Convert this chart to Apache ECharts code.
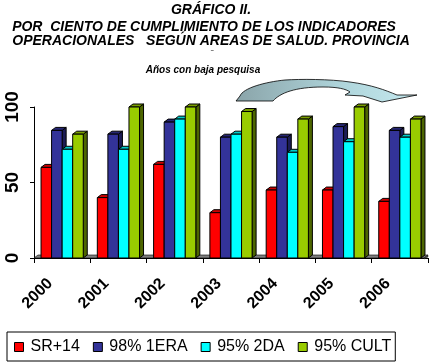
<!DOCTYPE html>
<html><head><meta charset="utf-8">
<script src="https://cdn.jsdelivr.net/npm/echarts@6/dist/echarts.min.js"></script>
<style>html,body{margin:0;padding:0;background:#fff}#c{width:432px;height:362px}</style>
</head><body><div id="c"></div>
<script>
var years = ['2000','2001','2002','2003','2004','2005','2006'];
var seriesNames = ['SR+14','98% 1ERA','95% 2DA','95% CULT'];
var sr14   = [60, 40, 62, 30, 45, 45, 37.5];
var era1   = [84.5, 82, 90, 80, 80, 87, 84.5];
var da2    = [72, 72, 92, 82, 70, 77, 80];
var cult   = [82, 100, 100, 97, 92, 100, 92];
var yTicks = [0, 50, 100];

var values = [sr14, era1, da2, cult];
var fronts = ['#FF0000','#333399','#00FFFF','#99CC00'];
var sides  = ['#990000','#1c1c55','#009999','#4d6600'];
var tops   = ['#cc0000','#262673','#00cccc','#7a9e00'];
var DX = 4, DY = 3;

function barRenderer(si){
  return function(params, api){
    var idx = api.value(0), v = api.value(1);
    var base = api.coord([idx, 0]);
    var top = api.coord([idx, v]);
    var cw = api.size([1, 0])[0];
    var bw = cw * 0.1875;
    var x = base[0] + (si - 2) * bw;
    var yb = base[1], yt = top[1];
    return {type:'group', children:[
      {type:'polygon', shape:{points:[[x+bw,yt],[x+bw+DX,yt-DY],[x+bw+DX,yb-DY],[x+bw,yb]]},
        style:{fill:sides[si], stroke:'#000', lineWidth:1}},
      {type:'polygon', shape:{points:[[x,yt],[x+DX,yt-DY],[x+bw+DX,yt-DY],[x+bw,yt]]},
        style:{fill:tops[si], stroke:'#000', lineWidth:1}},
      {type:'rect', shape:{x:x, y:yt, width:bw, height:yb-yt},
        style:{fill:fronts[si], stroke:'#000', lineWidth:1}}
    ]};
  };
}

var ARROW = 'M236,101 L273,101 C280,93 295,87 323,87 C338,87 346,89 350,92 L345,95 L363,96 L382,102 L417,95 L397,95 C385,90 372,85 350,82 C330,79 300,79 285,80 C265,82 243,88 240,96 Z';

function floorRenderer(params, api){
  var cs = params.coordSys;
  var x0 = cs.x, x1 = cs.x + cs.width, y0 = cs.y + cs.height;
  return {type:'group', children:[
    {type:'polygon', shape:{points:[[x0,y0],[x0+DX,y0-DY],[x1,y0-DY],[x1-DX,y0]]},
      style:{fill:'#808080', stroke:'#000', lineWidth:0.6}},
    {type:'polygon', shape:{points:[[x1-DX,y0],[x1,y0-DY],[x1,y0-DY+2],[x1-DX,y0+1]]},
      style:{fill:'#4d4d4d', stroke:'#000', lineWidth:0.4}},
    {type:'path', shape:{pathData:ARROW},
      style:{fill:{type:'linear', x:0, y:0, x2:1, y2:0, colorStops:[{offset:0,color:'#8aa4a9'},{offset:0.6,color:'#b0d6dc'},{offset:1,color:'#c4e8ee'}]},
        stroke:'#000', lineWidth:0.8}}
  ]};
}

var series = [{
  type:'custom', name:'floor', renderItem: floorRenderer, data:[[0,0]],
  clip:false, silent:true, z:1
}];
for (var s = 0; s < 4; s++) {
  series.push({
    type:'custom', name: seriesNames[s], renderItem: barRenderer(s),
    itemStyle:{color: fronts[s]},
    data: values[s].map(function(v, i){ return [i, v]; }),
    clip:false, z:2+s
  });
}

var FF = '"Liberation Sans", Arial, sans-serif';
var TS = {fontFamily:FF, fontSize:14, fontWeight:'bold', fontStyle:'italic', color:'#000'};
var chart = echarts.init(document.getElementById('c'), null, {renderer:'canvas'});
chart.setOption({
  animation:false,
  backgroundColor:'#fff',
  title:[
    {text:'GRÁFICO II.', left:211, textAlign:'center', top:3, padding:0, textStyle:TS},
    {text:'POR  CIENTO DE CUMPLIMIENTO DE LOS INDICADORES', left:204, textAlign:'center', top:20, padding:0, textStyle:TS},
    {text:'OPERACIONALES   SEGÚN AREAS DE SALUD. PROVINCIA', left:211, textAlign:'center', top:34, padding:0, textStyle:TS},
    {text:'˜', left:212, textAlign:'center', top:49, padding:0,
      textStyle:{fontFamily:FF, fontSize:8, fontWeight:'bold', color:'#000'}},
    {text:'Años con baja pesquisa', left:203, textAlign:'center', top:65, padding:0,
      textStyle:{fontFamily:FF, fontSize:10, fontWeight:'bold', fontStyle:'italic', color:'#000'}}
  ],
  legend:{
    data: seriesNames, left:7, top:332, orient:'horizontal',
    icon:'rect', itemWidth:9, itemHeight:9, itemGap:13,
    padding:[7,4,6,7],
    borderColor:'#000', borderWidth:1,
    itemStyle:{borderColor:'#000', borderWidth:1},
    textStyle:{fontFamily:FF, fontSize:16, color:'#000', padding:[0,0,0,2]}
  },
  grid:{left:34, right:4, top:107, bottom:104, containLabel:false},
  xAxis:{
    type:'category', data: years, boundaryGap:true,
    axisLine:{show:true, lineStyle:{color:'#000', width:1}},
    axisTick:{show:true, alignWithLabel:false, length:5, lineStyle:{color:'#000'}},
    axisLabel:{rotate:45, margin:11, padding:[0,17,0,0], fontFamily:FF, fontSize:16, fontWeight:'bold', color:'#000'},
    splitLine:{show:false}
  },
  yAxis:{
    type:'value', min: yTicks[0], max: yTicks[yTicks.length-1], interval: 50,
    axisLine:{show:true, lineStyle:{color:'#000', width:1}},
    axisTick:{show:true, length:4, lineStyle:{color:'#000'}},
    axisLabel:{rotate:90, margin:12, fontFamily:FF, fontSize:19, fontWeight:'bold', color:'#000'},
    splitLine:{show:false}
  },
  series: series
});
</script></body></html>
